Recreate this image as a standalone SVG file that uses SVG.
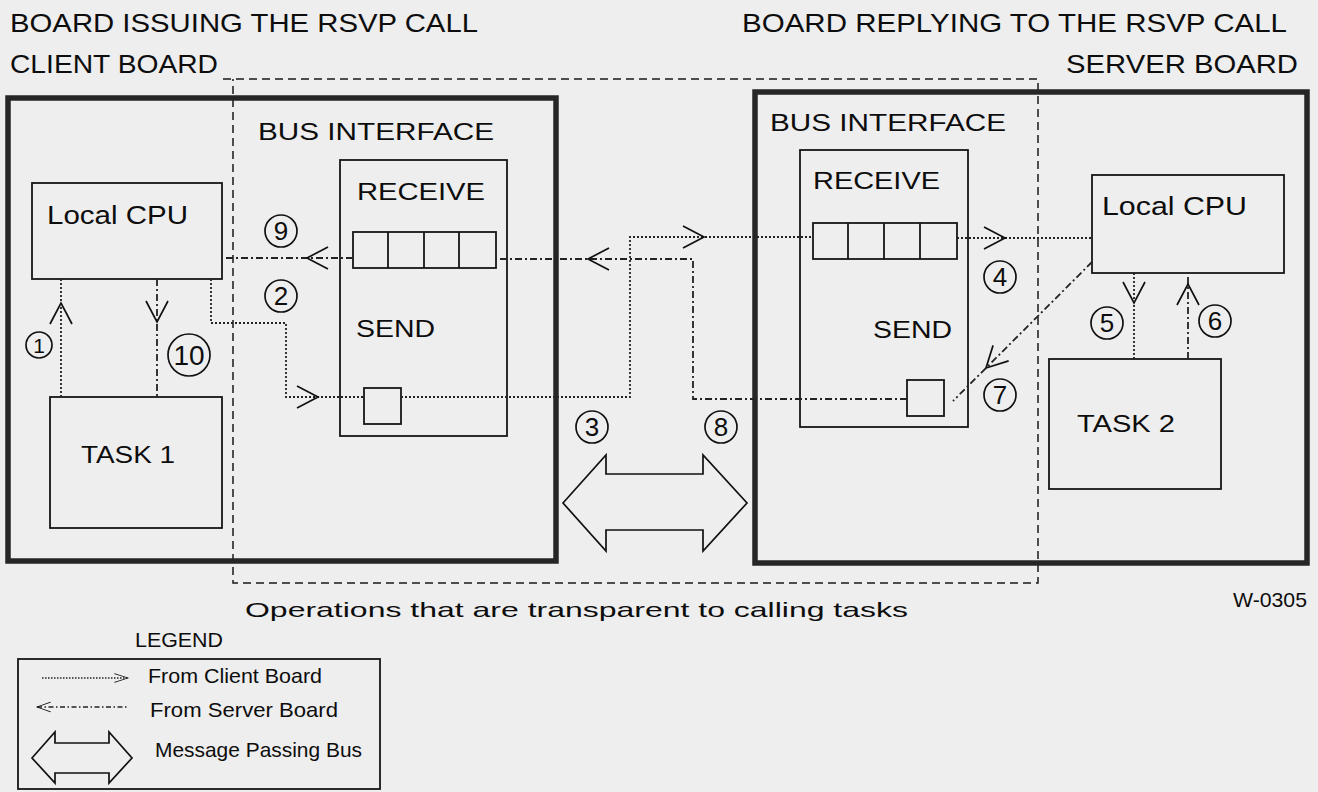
<svg xmlns="http://www.w3.org/2000/svg" width="1318" height="792" viewBox="0 0 1318 792">
<style>
text{font-family:"Liberation Sans",Arial,Helvetica,sans-serif;fill:#0d0d0d}
.board{fill:none;stroke:#262626;stroke-width:5.5}
.box{fill:none;stroke:#161616;stroke-width:1.8}
.frame{fill:none;stroke:#1a1a1a;stroke-width:1.5;stroke-dasharray:8 5}
.dot{fill:none;stroke:#222;stroke-width:1.8;stroke-dasharray:2 2}
.dd{fill:none;stroke:#222;stroke-width:1.8;stroke-dasharray:7 3 2 3}
.ah{fill:none;stroke:#111;stroke-width:1.7}
.num{fill:none;stroke:#111;stroke-width:1.7}
.bus{fill:none;stroke:#111;stroke-width:1.7}
.t26{font-size:26px}
.t24{font-size:24px}
.t21{font-size:21px}
.d{font-size:26px;text-anchor:middle}
</style>
<defs>
<path id="ah" d="M-21,-11 L0,0 L-21,11"/>
</defs>
<rect x="0" y="0" width="1318" height="792" fill="#eeeeee"/>

<g id="titles">
<text class="t26" x="10" y="32" textLength="468" lengthAdjust="spacingAndGlyphs">BOARD ISSUING THE RSVP CALL</text>
<text class="t26" x="10" y="73" textLength="208" lengthAdjust="spacingAndGlyphs">CLIENT BOARD</text>
<text class="t26" x="742" y="32" textLength="545" lengthAdjust="spacingAndGlyphs">BOARD REPLYING TO THE RSVP CALL</text>
<text class="t26" x="1066" y="73" textLength="232" lengthAdjust="spacingAndGlyphs">SERVER BOARD</text>
</g>

<g id="transparent-frame">
<path class="frame" d="M223,79 H1038 V583 H233 V79"/>
<text class="t21" x="245" y="617" textLength="663" lengthAdjust="spacingAndGlyphs">Operations that are transparent to calling tasks</text>
</g>

<g id="client-board">
<rect class="board" x="8" y="98" width="548" height="463"/>
</g>
<g id="server-board">
<rect class="board" x="755" y="92" width="552" height="471"/>
</g>

<g id="client-cpu">
<rect class="box" x="32" y="183" width="190" height="96"/>
<text class="t26" x="47" y="224" textLength="141" lengthAdjust="spacingAndGlyphs">Local CPU</text>
</g>
<g id="task1">
<rect class="box" x="50" y="397" width="172" height="131"/>
<text class="t24" x="81" y="463" textLength="94" lengthAdjust="spacingAndGlyphs">TASK 1</text>
</g>

<g id="client-bus">
<text class="t24" x="258" y="140" textLength="236" lengthAdjust="spacingAndGlyphs">BUS INTERFACE</text>
<rect class="box" x="340" y="160" width="167" height="276"/>
<text class="t24" x="357" y="200" textLength="128" lengthAdjust="spacingAndGlyphs">RECEIVE</text>
<rect class="box" x="353" y="232" width="143" height="36"/>
<path class="box" d="M388,232 V268 M424,232 V268 M459,232 V268"/>
<text class="t24" x="356" y="337" textLength="79" lengthAdjust="spacingAndGlyphs">SEND</text>
<rect class="box" x="364" y="388" width="37" height="36"/>
</g>

<g id="server-bus">
<text class="t24" x="770" y="131" textLength="236" lengthAdjust="spacingAndGlyphs">BUS INTERFACE</text>
<rect class="box" x="800" y="150" width="168" height="277"/>
<text class="t24" x="813" y="189" textLength="127" lengthAdjust="spacingAndGlyphs">RECEIVE</text>
<rect class="box" x="813" y="223" width="144" height="36"/>
<path class="box" d="M848,223 V259 M884,223 V259 M920,223 V259"/>
<text class="t24" x="873" y="338" textLength="79" lengthAdjust="spacingAndGlyphs">SEND</text>
<rect class="box" x="907" y="380" width="37" height="36"/>
</g>

<g id="server-cpu">
<rect class="box" x="1092" y="175" width="192" height="98"/>
<text class="t26" x="1102" y="215" textLength="145" lengthAdjust="spacingAndGlyphs">Local CPU</text>
</g>
<g id="task2">
<rect class="box" x="1049" y="359" width="172" height="130"/>
<text class="t24" x="1077" y="432" textLength="98" lengthAdjust="spacingAndGlyphs">TASK 2</text>
</g>

<g id="bus">
<polygon class="bus" points="563,503 606,455 606,474 703,474 703,455 747,503 703,551 703,530 606,530 606,551"/>
</g>

<g id="connectors">
<path class="dot" d="M61,397 V279"/>
<path class="dot" d="M211,279 V323 H286 V397 H364"/>
<path class="dot" d="M401,397 H630 V237 H813"/>
<path class="dot" d="M957,238 H1092"/>
<path class="dot" d="M1134,273 V359"/>
<path class="dd" d="M1188,359 V273"/>
<path class="dd" d="M1092,262 L953,401"/>
<path class="dd" d="M907,399 H693 V259 H496"/>
<path class="dd" d="M353,258 H222"/>
<path class="dd" d="M157,279 V397"/>
<use href="#ah" class="ah" transform="translate(61,303) rotate(-90)"/>
<use href="#ah" class="ah" transform="translate(318,397)"/>
<use href="#ah" class="ah" transform="translate(704,237)"/>
<use href="#ah" class="ah" transform="translate(1005,238)"/>
<use href="#ah" class="ah" transform="translate(1134,303) rotate(90)"/>
<use href="#ah" class="ah" transform="translate(1188,284) rotate(-90)"/>
<use href="#ah" class="ah" transform="translate(986,368) rotate(135)"/>
<use href="#ah" class="ah" transform="translate(588,259) rotate(180)"/>
<use href="#ah" class="ah" transform="translate(307,258) rotate(180)"/>
<use href="#ah" class="ah" transform="translate(157,322) rotate(90)"/>
</g>

<g id="step-numbers">
<g id="n1"><circle class="num" cx="39" cy="345" r="13"/><text class="d" style="font-size:21px" x="39" y="353">1</text></g>
<g id="n2"><circle class="num" cx="281" cy="296" r="16"/><text class="d" x="281" y="305">2</text></g>
<g id="n3"><circle class="num" cx="592" cy="427" r="16"/><text class="d" x="592" y="436">3</text></g>
<g id="n4"><circle class="num" cx="1000" cy="277" r="16"/><text class="d" x="1000" y="286">4</text></g>
<g id="n5"><circle class="num" cx="1107" cy="323" r="16"/><text class="d" x="1107" y="332">5</text></g>
<g id="n6"><circle class="num" cx="1215" cy="321" r="16"/><text class="d" x="1215" y="330">6</text></g>
<g id="n7"><circle class="num" cx="1000" cy="395" r="16"/><text class="d" x="1000" y="404">7</text></g>
<g id="n8"><circle class="num" cx="721" cy="427" r="16"/><text class="d" x="721" y="436">8</text></g>
<g id="n9"><circle class="num" cx="281" cy="231" r="16"/><text class="d" x="281" y="240">9</text></g>
<g id="n10"><circle class="num" cx="189" cy="355" r="21"/><text class="d" style="font-size:28px" x="189" y="365">10</text></g>
</g>

<text class="t21" x="1233" y="607" textLength="74" lengthAdjust="spacingAndGlyphs">W-0305</text>

<g id="legend">
<text class="t21" x="135" y="647" textLength="88" lengthAdjust="spacingAndGlyphs">LEGEND</text>
<rect class="box" x="18" y="659" width="362" height="130"/>
<path class="dot" d="M42,678 H128" style="stroke-dasharray:1.5 1.5;stroke-width:1.4"/>
<use href="#ah" class="ah" transform="translate(128,678) scale(0.65,0.4)"/>
<text class="t21" x="148" y="683" textLength="174" lengthAdjust="spacingAndGlyphs">From Client Board</text>
<path class="dd" d="M37,707 H128" style="stroke-dasharray:5 2.5 1.5 2.5;stroke-width:1.4"/>
<use href="#ah" class="ah" transform="translate(37,707) rotate(180) scale(0.65,0.45)"/>
<text class="t21" x="150" y="717" textLength="188" lengthAdjust="spacingAndGlyphs">From Server Board</text>
<polygon class="bus" points="32,758 55,732 55,743 109,743 109,732 132,758 109,783 109,773 55,773 55,783"/>
<text class="t21" x="155" y="757" textLength="207" lengthAdjust="spacingAndGlyphs">Message Passing Bus</text>
</g>
</svg>
